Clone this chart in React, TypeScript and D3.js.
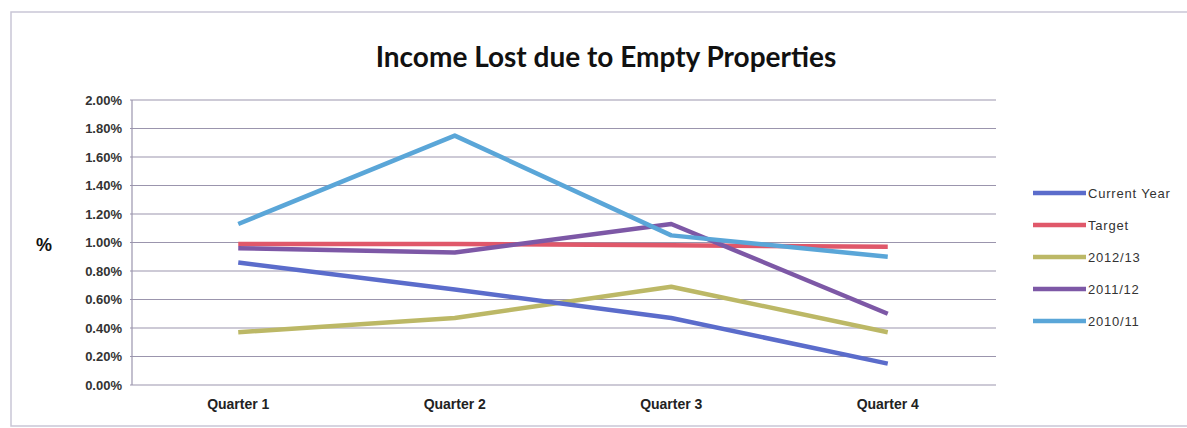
import React, { useRef, useEffect } from 'react';
import * as d3 from 'd3';

const quarters = ['Quarter 1', 'Quarter 2', 'Quarter 3', 'Quarter 4'];
const yTicks = [0, 0.2, 0.4, 0.6, 0.8, 1.0, 1.2, 1.4, 1.6, 1.8, 2.0];

const currentYear = [0.86, 0.67, 0.47, 0.15];
const target = [0.99, 0.99, 0.98, 0.97];
const y2012 = [0.37, 0.47, 0.69, 0.37];
const y2011 = [0.96, 0.93, 1.13, 0.5];
const y2010 = [1.13, 1.75, 1.05, 0.9];

const seriesNames = ['Current Year', 'Target', '2012/13', '2011/12', '2010/11'];
const seriesColors = ['#5b6ccb', '#e0586a', '#bcb866', '#7d58a6', '#5aa6d8'];
const seriesValues = [currentYear, target, y2012, y2011, y2010];

// draw order: bottom first
const drawOrder = [2, 0, 1, 3, 4];

export default function App() {
  const svgRef = useRef<SVGSVGElement>(null);

  useEffect(() => {
    const svg = d3.select(svgRef.current);
    svg.selectAll('*').remove();

    const left = 130, right = 996, top = 100, bottom = 385;

    const x = d3.scaleBand().domain(quarters).range([left, right]);
    const y = d3.scaleLinear().domain([0, 2]).range([bottom, top]);

    // outer frame
    svg.append('rect')
      .attr('x', 11).attr('y', 12).attr('width', 1190).attr('height', 414)
      .attr('fill', 'none').attr('stroke', '#c9c6d6').attr('stroke-width', 1.5);

    // title
    svg.append('text')
      .attr('x', 606).attr('y', 67)
      .attr('text-anchor', 'middle')
      .attr('font-family', 'Lato, sans-serif')
      .attr('font-weight', 'bold')
      .attr('font-size', 28)
      .attr('fill', '#111')
      .text('Income Lost due to Empty Properties');

    // gridlines
    svg.append('g').selectAll('line').data(yTicks).join('line')
      .attr('x1', left).attr('x2', right)
      .attr('y1', d => y(d)).attr('y2', d => y(d))
      .attr('stroke', '#9b95ad').attr('stroke-width', 1.2);

    // y axis line
    svg.append('line')
      .attr('x1', left + 2).attr('x2', left + 2)
      .attr('y1', top).attr('y2', bottom)
      .attr('stroke', '#9b95ad').attr('stroke-width', 1.2);

    // y tick labels
    svg.append('g').selectAll('text').data(yTicks).join('text')
      .attr('x', 122).attr('y', d => y(d) + 4.5)
      .attr('text-anchor', 'end')
      .attr('font-family', 'Liberation Sans, Arial, sans-serif')
      .attr('font-size', 13)
      .attr('font-weight', 'bold')
      .attr('fill', '#333')
      .text(d => d3.format('.2f')(d) + '%');

    // y axis title
    svg.append('text')
      .attr('x', 44).attr('y', 251)
      .attr('text-anchor', 'middle')
      .attr('font-family', 'Liberation Sans, Arial, sans-serif')
      .attr('font-size', 18)
      .attr('font-weight', 'bold')
      .attr('fill', '#111')
      .text('%');

    // x labels
    svg.append('g').selectAll('text').data(quarters).join('text')
      .attr('x', d => (x(d) as number) + x.bandwidth() / 2)
      .attr('y', 409)
      .attr('text-anchor', 'middle')
      .attr('font-family', 'Liberation Sans, Arial, sans-serif')
      .attr('font-size', 14)
      .attr('font-weight', 'bold')
      .attr('fill', '#222')
      .text(d => d);

    const line = d3.line<number>()
      .x((_, i) => (x(quarters[i]) as number) + x.bandwidth() / 2)
      .y(d => y(d));

    drawOrder.forEach(si => {
      svg.append('path')
        .datum(seriesValues[si])
        .attr('d', line)
        .attr('fill', 'none')
        .attr('stroke', seriesColors[si])
        .attr('stroke-width', 4.5)
        .attr('stroke-linejoin', 'round');
    });

    // legend
    const lg = svg.append('g');
    seriesNames.forEach((name, i) => {
      const ly = 193 + i * 32;
      lg.append('line')
        .attr('x1', 1033).attr('x2', 1086)
        .attr('y1', ly).attr('y2', ly)
        .attr('stroke', seriesColors[i]).attr('stroke-width', 4.5);
      lg.append('text')
        .attr('x', 1088).attr('y', ly + 5)
        .attr('font-family', 'Liberation Sans, Arial, sans-serif')
        .attr('font-size', 13)
        .attr('letter-spacing', 0.8)
        .attr('fill', '#333')
        .text(name);
    });
  }, []);

  return (
    <svg ref={svgRef} width={1187} height={428}
      style={{ position: 'absolute', left: 0, top: 0, background: '#fff' }} />
  );
}
